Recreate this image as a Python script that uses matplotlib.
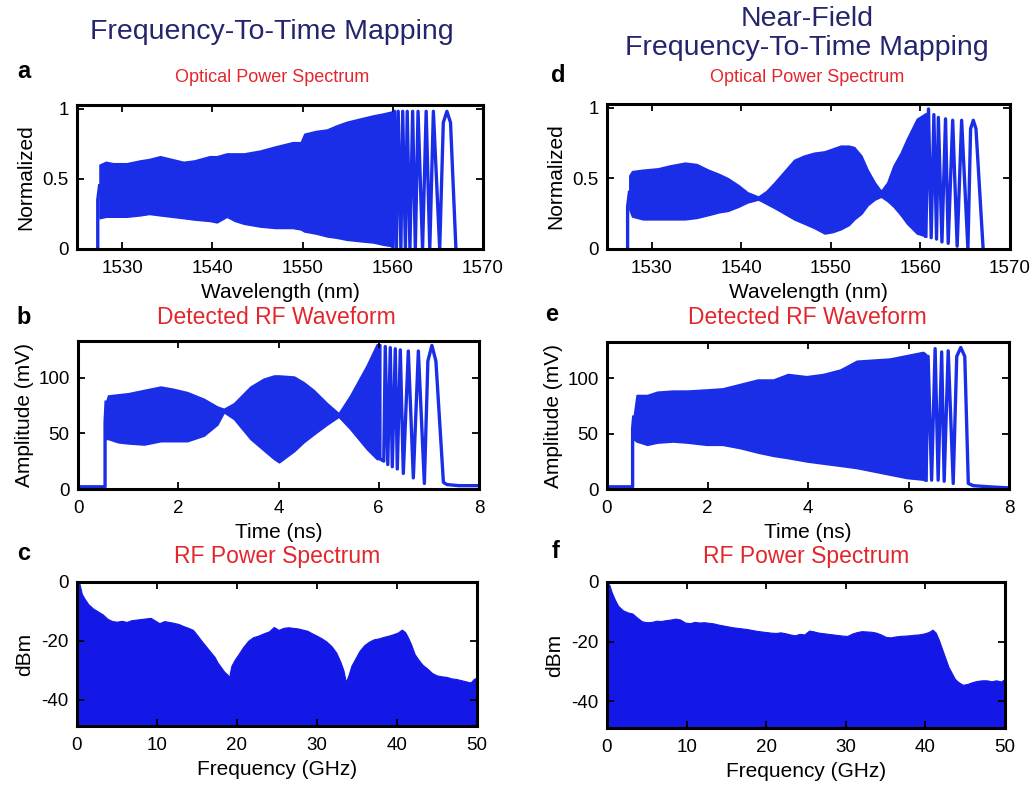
import matplotlib
matplotlib.use('Agg')
import matplotlib.pyplot as plt
from matplotlib.ticker import FixedLocator, FixedFormatter

plt.rcParams['font.family'] = ['Liberation Sans', 'DejaVu Sans']
plt.rcParams['axes.unicode_minus'] = False

# ---------------- data ----------------
# (a) optical power spectrum, dense fringe region: envelope
wl_a = [1527.5, 1528.2, 1529.0, 1530.5, 1532.0, 1533.0, 1534.2, 1535.5, 1536.8, 1538.0,
        1539.7, 1540.5, 1541.6, 1542.5, 1543.5, 1545.3, 1547.0, 1548.9, 1549.8, 1550.2,
        1551.5, 1552.7, 1553.8, 1554.9, 1556.5, 1557.8, 1559.0, 1560.0]
up_a = [0.60, 0.62, 0.61, 0.61, 0.63, 0.64, 0.66, 0.64, 0.62, 0.63,
        0.66, 0.66, 0.68, 0.68, 0.68, 0.70, 0.73, 0.76, 0.76, 0.82,
        0.84, 0.85, 0.88, 0.905, 0.93, 0.95, 0.965, 0.98]
lo_a = [0.22, 0.23, 0.23, 0.23, 0.24, 0.25, 0.24, 0.23, 0.22, 0.21,
        0.20, 0.19, 0.23, 0.20, 0.18, 0.16, 0.15, 0.15, 0.14, 0.125,
        0.11, 0.09, 0.08, 0.066, 0.055, 0.047, 0.03, 0.02]
# (a) onset edge and resolved fringes (alternating peaks / troughs)
fr_wl_a = [1527.3, 1527.3, 1527.5]
fr_val_a = [0.0, 0.35, 0.45]
tail_wl_a = [1560.0, 1560.2, 1560.4, 1560.6, 1560.9, 1561.1, 1561.4, 1561.6, 1561.9, 1562.2,
             1562.5, 1562.8, 1563.3, 1563.7, 1564.1, 1564.5, 1565.2, 1565.6, 1566.0, 1566.4, 1567.0]
tail_val_a = [0.02, 0.98, 0.01, 0.98, 0.0, 0.98, 0.0, 0.98, 0.0, 0.98,
              0.0, 0.98, 0.0, 0.98, 0.0, 0.98, 0.0, 0.90, 0.98, 0.90, 0.0]

# (d) near-field optical power spectrum
wl_d = [1527.5, 1527.8, 1529.0, 1530.7, 1532.0, 1533.7, 1535.0, 1536.3, 1537.5, 1538.5,
        1539.7, 1540.7, 1541.9, 1542.8, 1543.7, 1544.8, 1545.9, 1547.0, 1548.1, 1549.3,
        1550.2, 1551.1, 1552.0, 1552.6, 1553.4, 1554.1, 1554.9, 1555.6, 1556.3, 1557.0,
        1557.8, 1558.5, 1559.6, 1560.6]
up_d = [0.52, 0.55, 0.56, 0.57, 0.59, 0.61, 0.60, 0.56, 0.53, 0.50,
        0.45, 0.40, 0.37, 0.41, 0.47, 0.55, 0.63, 0.66, 0.68, 0.69,
        0.71, 0.73, 0.73, 0.72, 0.66, 0.56, 0.47, 0.41, 0.47, 0.59,
        0.68, 0.78, 0.92, 0.96]
lo_d = [0.28, 0.23, 0.21, 0.21, 0.21, 0.21, 0.22, 0.24, 0.26, 0.27,
        0.30, 0.33, 0.35, 0.32, 0.29, 0.25, 0.21, 0.18, 0.15, 0.11,
        0.12, 0.14, 0.17, 0.21, 0.25, 0.31, 0.35, 0.37, 0.34, 0.30,
        0.24, 0.18, 0.11, 0.09]
fr_wl_d = [1527.3, 1527.3, 1527.5]
fr_val_d = [0.0, 0.30, 0.40]
tail_wl_d = [1560.6, 1560.9, 1561.2, 1561.5, 1561.8, 1562.0, 1562.4, 1562.8, 1563.1, 1563.6,
             1564.1, 1564.6, 1565.3, 1565.6, 1565.9, 1566.2, 1567.0]
tail_val_d = [0.09, 0.99, 0.08, 0.95, 0.07, 0.93, 0.05, 0.92, 0.04, 0.91,
              0.02, 0.91, 0.0, 0.85, 0.91, 0.85, 0.0]

# (b) detected RF waveform
t_b = [0.56, 0.60, 0.80, 1.00, 1.32, 1.65, 1.90, 2.18, 2.51, 2.78, 2.91, 3.11, 3.44,
       3.70, 3.91, 4.01, 4.31, 4.50, 4.70, 4.97, 5.20, 5.43, 5.76, 5.96, 6.03]
up_b = [78, 84, 85, 86, 89, 92, 90, 87, 81, 74, 72, 77, 92,
        99, 102, 102, 101, 96, 89, 77, 68, 84, 111, 130, 130]
lo_b = [45, 45, 42, 41, 40, 43, 43, 43, 48, 58, 69, 63, 45,
        35, 27, 24, 34, 42, 49, 58, 65, 54, 36, 27, 27]
head_t_b = [0.0, 0.54, 0.54, 0.56]
head_v_b = [2, 2, 60, 78]
tail_t_b = [6.03, 6.10, 6.13, 6.18, 6.23, 6.27, 6.33, 6.37, 6.43, 6.49, 6.59, 6.69, 6.79,
            6.91, 6.98, 7.06, 7.14, 7.29, 7.36, 7.60, 8.00]
tail_v_b = [27, 25, 128, 22, 127, 20, 126, 18, 125, 14, 124, 10, 124,
            5, 115, 129, 115, 6, 4, 3, 3]

# (e) near-field detected RF waveform
t_e = [0.53, 0.59, 0.80, 1.00, 1.31, 1.60, 1.98, 2.30, 2.65, 3.00, 3.31, 3.60, 3.97,
       4.30, 4.64, 4.97, 5.30, 5.63, 5.96, 6.29, 6.35]
up_e = [65, 85, 85, 88, 89, 89, 90, 91, 95, 99, 99, 104, 102,
        104, 108, 116, 117, 118, 121, 124, 122]
lo_e = [45, 43, 40, 42, 43, 42, 40, 40, 37, 33, 30, 28, 25,
        23, 21, 19, 16, 13, 10, 8.5, 8]
head_t_e = [0.0, 0.51, 0.51, 0.53]
head_v_e = [2, 2, 55, 65]
tail_t_e = [6.35, 6.39, 6.46, 6.53, 6.59, 6.66, 6.71, 6.79, 6.89, 6.96, 7.04, 7.12,
            7.19, 7.29, 7.60, 8.00]
tail_v_e = [8, 120, 8, 127, 8, 124, 7, 125, 5, 120, 128, 120,
            5, 3, 2, 1]

# (c) RF power spectrum
f_c = [0.0, 0.3, 0.6, 0.9, 1.4, 2.0, 2.6, 3.2, 3.8, 4.4, 5.0, 5.6, 6.2, 6.8, 7.4, 8.0,
       8.6, 9.2, 9.8, 10.3, 10.9, 11.5, 12.1, 12.7, 13.3, 13.9, 14.5, 15.0, 15.5, 16.0,
       16.6, 17.2, 17.6, 18.0, 18.4, 18.8, 19.0, 19.3, 19.7, 20.2, 20.8, 21.4, 22.0, 22.7,
       23.3, 24.0, 24.6, 25.2, 25.8, 26.4, 27.0, 27.6, 28.2, 28.8, 29.4, 30.0, 30.6, 31.2,
       31.8, 32.4, 32.9, 33.3, 33.6, 33.9, 34.3, 34.8, 35.3, 35.9, 36.5, 37.1, 37.7, 38.3,
       38.9, 39.5, 40.1, 40.6, 41.0, 41.4, 41.8, 42.2, 42.7, 43.2, 43.8, 44.4, 45.0, 45.6,
       46.2, 46.8, 47.4, 48.0, 48.6, 49.2, 49.6, 50.0]
db_c = [0.0, -0.5, -4.0, -5.5, -7.5, -9.0, -10.0, -11.0, -12.5, -13.3, -13.5, -13.2,
        -13.6, -13.0, -12.8, -12.6, -12.4, -12.2, -13.2, -14.0, -13.3, -13.6, -13.9,
        -14.3, -15.0, -15.6, -16.3, -18.0, -19.8, -21.5, -23.5, -25.5, -27.5, -29.0,
        -30.5, -31.5, -32.5, -28.5, -26.5, -24.5, -22.0, -20.0, -18.8, -18.2, -17.5,
        -16.8, -15.3, -16.3, -15.6, -15.4, -15.6, -15.8, -16.2, -16.6, -17.5, -18.3,
        -19.2, -20.3, -21.8, -24.0, -27.0, -30.0, -34.0, -32.0, -28.5, -26.0, -23.5,
        -21.5, -20.3, -19.5, -19.2, -18.7, -18.3, -17.8, -17.2, -16.2, -17.0, -19.0,
        -21.5, -24.5, -26.5, -28.2, -29.5, -31.0, -31.8, -32.1, -32.3, -32.8, -33.0,
        -33.4, -33.8, -34.2, -33.0, -32.5]

# (f) near-field RF power spectrum
f_f = [0.0, 0.3, 0.6, 1.0, 1.4, 2.0, 2.6, 3.2, 3.8, 4.4, 5.0, 5.6, 6.2, 6.8, 7.4, 8.0,
       8.6, 9.2, 9.8, 10.4, 11.0, 11.6, 12.2, 12.8, 13.4, 14.0, 14.6, 15.2, 15.8, 16.4,
       17.0, 17.6, 18.2, 18.8, 19.4, 20.0, 20.6, 21.2, 21.8, 22.4, 23.0, 23.6, 24.2, 24.8,
       25.4, 26.0, 26.6, 27.2, 27.8, 28.4, 29.0, 29.6, 30.2, 30.8, 31.4, 32.0, 32.6, 33.2,
       33.8, 34.4, 35.0, 35.6, 36.2, 36.8, 37.4, 38.0, 38.6, 39.2, 39.8, 40.4, 40.9, 41.3,
       41.7, 42.1, 42.5, 42.9, 43.3, 43.7, 44.1, 44.7, 45.3, 45.9, 46.5, 47.1, 47.7, 48.3,
       48.9, 49.5, 50.0]
db_f = [0.0, -1.0, -3.5, -6.0, -8.0, -9.5, -10.2, -10.6, -12.0, -13.2, -13.5, -13.4,
        -13.0, -13.1, -12.8, -12.6, -12.3, -12.6, -13.6, -13.8, -13.4, -13.6, -13.5,
        -13.7, -13.9, -14.3, -14.6, -14.9, -15.2, -15.4, -15.6, -15.8, -16.1, -16.4,
        -16.6, -16.8, -17.0, -17.1, -16.9, -17.2, -17.6, -17.9, -17.4, -17.6, -16.3,
        -16.6, -17.0, -17.2, -17.4, -17.6, -17.8, -18.0, -18.1, -17.3, -16.8, -16.5,
        -16.6, -16.7, -17.0, -17.6, -18.4, -18.6, -18.3, -18.1, -18.0, -17.9, -17.7,
        -17.6, -17.3, -16.8, -16.0, -17.0, -19.5, -22.5, -25.5, -28.5, -30.5, -32.5,
        -33.5, -34.5, -34.2, -33.6, -33.2, -33.0, -33.0, -33.3, -33.0, -33.4, -32.5]

# tick values / labels
xt_wl = [1530, 1540, 1550, 1560, 1570]
yt_norm = [0, 0.5, 1]
yl_norm = ['0', '0.5', '1']
xt_time = [0, 2, 4, 6, 8]
yt_amp = [0, 50, 100]
xt_freq = [0, 10, 20, 30, 40, 50]
yt_db = [0, -20, -40]

# ---------------- styling ----------------
LINE = '#1a2ee8'
FILL = '#1418e6'
NAVY = '#25256e'
RED = '#e3262b'
W, H = 1031, 786
LW = 2.4

fig = plt.figure(figsize=(W / 100, H / 100), dpi=100)


def px_axes(l, r, t, b):
    return fig.add_axes([l / W, 1 - b / H, (r - l) / W, (b - t) / H])


def style(ax, xt, yt, ylabels=None):
    for s in ax.spines.values():
        s.set_linewidth(2.2)
        s.set_zorder(5)
    ax.tick_params(direction='in', length=5, width=1.3, top=True, right=True,
                   labelsize=13.5)
    ax.tick_params(axis='x', pad=8)
    ax.tick_params(axis='y', pad=6)
    ax.xaxis.set_major_locator(FixedLocator(xt))
    ax.xaxis.set_major_formatter(FixedFormatter([str(v) for v in xt]))
    ax.yaxis.set_major_locator(FixedLocator(yt))
    ax.yaxis.set_major_formatter(FixedFormatter(ylabels if ylabels else [str(v) for v in yt]))


def fig_text(x, y, s, **kw):
    fig.text(x / W, 1 - y / H, s, ha='center', va='center', **kw)


def waveform(ax, x, lo, up, hx, hy, tx, ty):
    ax.fill_between(x, lo, up, color=LINE, lw=1.2, joinstyle='round')
    ax.plot(hx, hy, color=LINE, lw=LW, solid_joinstyle='round')
    ax.plot(tx, ty, color=LINE, lw=LW, solid_joinstyle='round')


# (a)
ax_a = px_axes(77, 483, 105, 249)
waveform(ax_a, wl_a, lo_a, up_a, fr_wl_a, fr_val_a, tail_wl_a, tail_val_a)
ax_a.set_xlim(1525, 1570)
ax_a.set_ylim(0, 1.025)
style(ax_a, xt_wl, yt_norm, yl_norm)
ax_a.set_xlabel('Wavelength (nm)', fontsize=15, labelpad=4)
ax_a.set_ylabel('Normalized', fontsize=15, labelpad=5)

# (d)
ax_d = px_axes(607, 1010, 104, 249)
waveform(ax_d, wl_d, lo_d, up_d, fr_wl_d, fr_val_d, tail_wl_d, tail_val_d)
ax_d.set_xlim(1525, 1570)
ax_d.set_ylim(0, 1.025)
style(ax_d, xt_wl, yt_norm, yl_norm)
ax_d.set_xlabel('Wavelength (nm)', fontsize=15, labelpad=4)
ax_d.set_ylabel('Normalized', fontsize=15, labelpad=5)

# (b)
ax_b = px_axes(78, 479, 341, 489)
waveform(ax_b, t_b, lo_b, up_b, head_t_b, head_v_b, tail_t_b, tail_v_b)
ax_b.set_xlim(0, 8)
ax_b.set_ylim(0, 133)
style(ax_b, xt_time, yt_amp)
ax_b.set_xlabel('Time (ns)', fontsize=15, labelpad=4)
ax_b.set_ylabel('Amplitude (mV)', fontsize=15, labelpad=3)

# (e)
ax_e = px_axes(607, 1009, 342, 489)
waveform(ax_e, t_e, lo_e, up_e, head_t_e, head_v_e, tail_t_e, tail_v_e)
ax_e.set_xlim(0, 8)
ax_e.set_ylim(0, 133)
style(ax_e, xt_time, yt_amp)
ax_e.set_xlabel('Time (ns)', fontsize=15, labelpad=4)
ax_e.set_ylabel('Amplitude (mV)', fontsize=15, labelpad=3)

# (c)
ax_c = px_axes(77, 477, 582, 726)
ax_c.fill_between(f_c, -60, db_c, color=FILL, lw=0.8)
ax_c.set_xlim(0, 50)
ax_c.set_ylim(-49, 0)
style(ax_c, xt_freq, yt_db)
ax_c.set_xlabel('Frequency (GHz)', fontsize=15, labelpad=4)
ax_c.set_ylabel('dBm', fontsize=15, labelpad=5)

# (f)
ax_f = px_axes(607, 1005, 582, 728)
ax_f.fill_between(f_f, -60, db_f, color=FILL, lw=0.8)
ax_f.set_xlim(0, 50)
ax_f.set_ylim(-49, 0)
style(ax_f, xt_freq, yt_db)
ax_f.set_xlabel('Frequency (GHz)', fontsize=15, labelpad=4)
ax_f.set_ylabel('dBm', fontsize=15, labelpad=5)

# titles and panel texts
fig_text(272, 32, 'Frequency-To-Time Mapping', fontsize=20.5, color=NAVY)
fig_text(807, 19, 'Near-Field', fontsize=20.5, color=NAVY)
fig_text(807, 48, 'Frequency-To-Time Mapping', fontsize=20.5, color=NAVY)

fig_text(272, 77, 'Optical Power Spectrum', fontsize=13, color=RED)
fig_text(807, 77, 'Optical Power Spectrum', fontsize=13, color=RED)
fig_text(276, 318, 'Detected RF Waveform', fontsize=16.5, color=RED)
fig_text(807, 317, 'Detected RF Waveform', fontsize=16.5, color=RED)
fig_text(277, 557, 'RF Power Spectrum', fontsize=16.5, color=RED)
fig_text(806, 557, 'RF Power Spectrum', fontsize=16.5, color=RED)

for lab, x, y in [('a', 24, 72), ('b', 24, 318), ('c', 24, 553),
                  ('d', 558, 75), ('e', 552, 315), ('f', 556, 551)]:
    fig_text(x, y, lab, fontsize=17, fontweight='bold', color='black')

fig.savefig('out.png', dpi=100)
